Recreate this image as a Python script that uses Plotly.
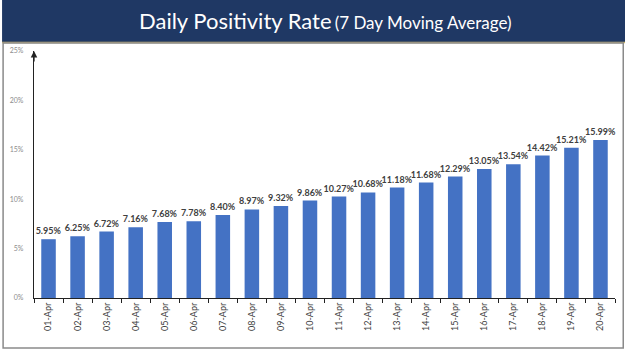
import plotly.graph_objects as go

dates = ["01-Apr", "02-Apr", "03-Apr", "04-Apr", "05-Apr", "06-Apr", "07-Apr", "08-Apr", "09-Apr", "10-Apr",
         "11-Apr", "12-Apr", "13-Apr", "14-Apr", "15-Apr", "16-Apr", "17-Apr", "18-Apr", "19-Apr", "20-Apr"]
rates = [5.95, 6.25, 6.72, 7.16, 7.68, 7.78, 8.40, 8.97, 9.32, 9.86,
         10.27, 10.68, 11.18, 11.68, 12.29, 13.05, 13.54, 14.42, 15.21, 15.99]
y_ticks = [0, 5, 10, 15, 20, 25]
title_main = "Daily Positivity Rate"
title_sub = "(7 Day Moving Average)"

fig = go.Figure(go.Bar(
    x=dates, y=rates,
    marker=dict(color="#4472C4", line=dict(width=0)),
    text=[f"{v:.2f}%" for v in rates],
    textposition="outside",
    constraintext="none",
    textfont=dict(family="Lato, Open Sans, sans-serif", size=9, color="#404040", weight="bold"),
    cliponaxis=False,
))

fig.update_layout(
    width=625, height=351,
    margin=dict(l=31, r=10, t=51, b=53),
    paper_bgcolor="white", plot_bgcolor="white",
    bargap=0.5,
    showlegend=False,
    font=dict(family="Lato, Open Sans, sans-serif"),
    xaxis=dict(
        type="category",
        showline=True, linecolor="#222222", linewidth=1.3,
        ticks="outside", tickson="boundaries", ticklen=4, tickcolor="#222222",
        tickangle=-90,
        tickfont=dict(size=9, color="#404040", family="Lato, Open Sans, sans-serif"),
        showgrid=False,
    ),
    yaxis=dict(
        range=[0, 25], tickvals=y_ticks, ticktext=[f"{t}%" for t in y_ticks],
        showline=True, linecolor="#222222", linewidth=1.3,
        ticks="", ticklabelstandoff=8,
        tickfont=dict(size=7, color="#8c8c8c"),
        showgrid=False, zeroline=False,
    ),
    shapes=[
        dict(type="rect", xref="paper", yref="paper", x0=-31/564, x1=1+10/564, y0=1+(51-42)/247, y1=1+51/247,
             fillcolor="#1F3864", line=dict(width=0), layer="below"),
        dict(type="line", xref="paper", yref="paper", x0=-31/564, x1=1+10/564, y0=1+(51-42.5)/247, y1=1+(51-42.5)/247,
             line=dict(color="#C9B26A", width=1.5)),
        dict(type="rect", xref="paper", yref="paper", x0=-30/564, x1=1+8/564, y0=-50/247, y1=1+(51-43)/247,
             line=dict(color="#8a8a8a", width=1.5), fillcolor="rgba(0,0,0,0)"),
    ],
    annotations=[
        dict(xref="paper", yref="paper", x=(314-31)/564, y=1+(51-21)/247, xanchor="center", yanchor="middle",
             showarrow=False,
             text=f"<span style='font-size:22px'>{title_main}</span> <span style='font-size:17px'>{title_sub}</span>",
             font=dict(color="white", family="Lato, Open Sans, sans-serif")),
        dict(xref="paper", yref="y", x=0, y=25, ax=0, ay=12, axref="pixel", ayref="pixel",
             showarrow=True, arrowhead=2, arrowsize=1, arrowwidth=1.3, arrowcolor="#222222", text=""),
    ],
)

fig.write_html("out.html")
